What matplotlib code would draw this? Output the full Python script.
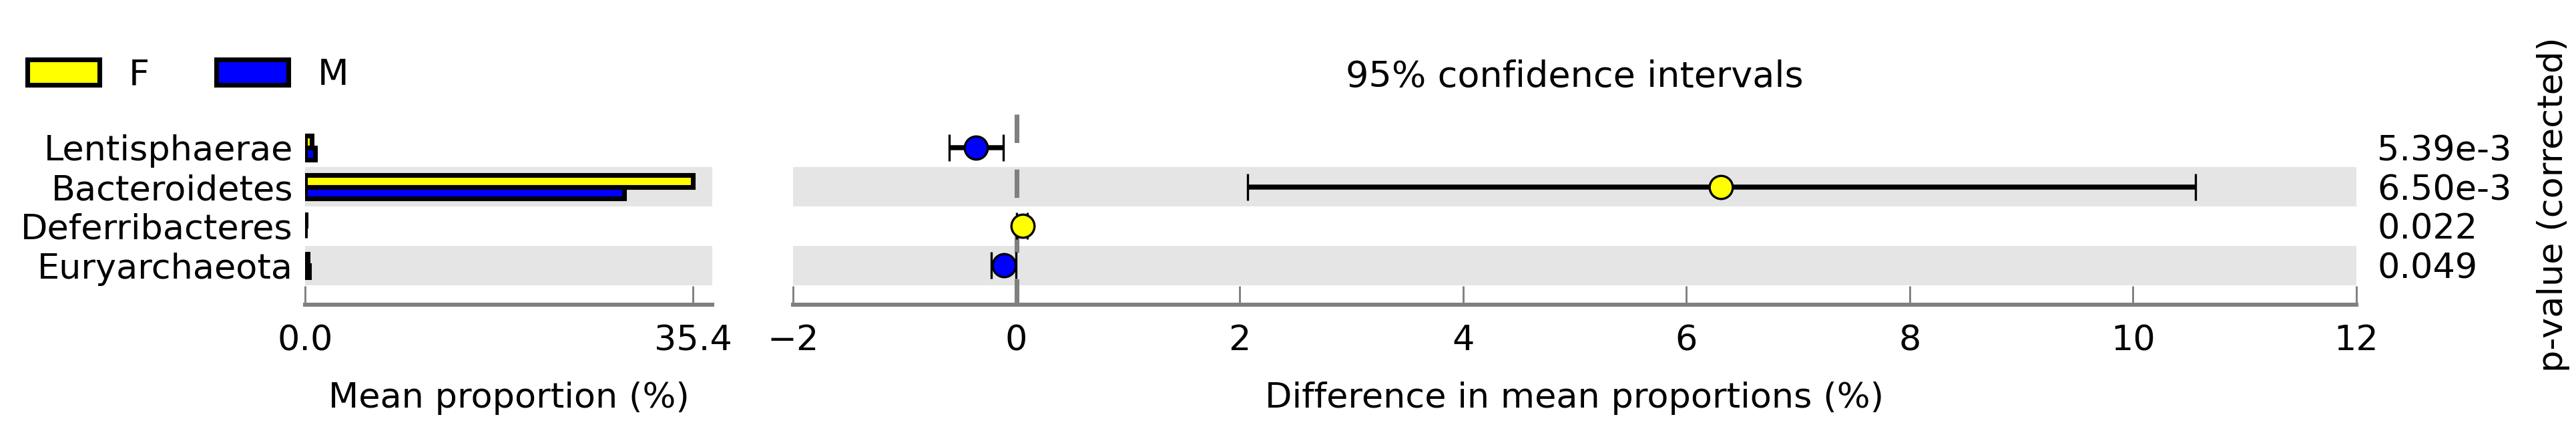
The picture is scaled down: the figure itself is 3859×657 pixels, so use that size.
import matplotlib
matplotlib.use("Agg")
import matplotlib.pyplot as plt
from matplotlib.patches import Patch

# Features, bottom row first
features = ["Euryarchaeota", "Deferribacteres", "Bacteroidetes", "Lentisphaerae"]
mean_f = [0.24, 0.09, 35.4, 0.58]
mean_m = [0.37, 0.03, 29.1, 0.94]
diff = [-0.11, 0.054, 6.31, -0.363]
ci_low = [-0.225, 0.002, 2.07, -0.60]
ci_high = [-0.004, 0.098, 10.56, -0.118]
pvalues = ["0.049", "0.022", "6.50e-3", "5.39e-3"]
groups = ["F", "M"]
group_colors = ["#ffff00", "#0000ff"]
diff_ticks = [-2, 0, 2, 4, 6, 8, 10, 12]

FONT = 12.6
FONT_BIG = 13
EDGE_LW = 1.7
GREY = "#808080"
BAND = "#e5e5e5"

W, H, DPI = 3859, 657, 300
fig = plt.figure(figsize=(W / DPI, H / DPI), dpi=DPI)
plt.rcParams["font.family"] = "DejaVu Sans"

rows = list(range(len(features)))
ylim = (-1.0, 3.85)
bottom = 1 - 456 / H
height = 285 / H

ax_bar = fig.add_axes([457 / W, bottom, 610 / W, height])
ax_ci = fig.add_axes([1188 / W, bottom, 2342 / W, height])


def style_axis(ax):
    for side in ["top", "right", "left"]:
        ax.spines[side].set_visible(False)
    ax.spines["bottom"].set_color(GREY)
    ax.spines["bottom"].set_linewidth(1.45)
    ax.tick_params(axis="x", direction="in", length=6.7, width=0.7, color=GREY,
                   labelsize=FONT, pad=7)
    ax.tick_params(axis="y", length=0)
    ax.set_ylim(*ylim)
    ax.set_facecolor("none")


# --- mean proportion bars ---
xmax = max(max(mean_f), max(mean_m)) * 1.05
for r in rows:
    if r % 2 == 0:
        ax_bar.barh(r, xmax, height=1.0, left=0, color=BAND, lw=0, zorder=0)
ax_bar.barh([r + 0.15 for r in rows], mean_f, height=0.3, color=group_colors[0],
            edgecolor="k", linewidth=EDGE_LW, zorder=2)
ax_bar.barh([r - 0.15 for r in rows], mean_m, height=0.3, color=group_colors[1],
            edgecolor="k", linewidth=EDGE_LW, zorder=2)
ax_bar.set_xlim(0, xmax)
ax_bar.set_xticks([0, max(mean_f + mean_m)])
ax_bar.set_xticklabels(["%.1f" % 0, "%.1f" % max(mean_f + mean_m)])
ax_bar.set_yticks(rows)
ax_bar.set_yticklabels(features, fontsize=FONT)
style_axis(ax_bar)
ax_bar.tick_params(axis="y", pad=4.3)
ax_bar.set_xlabel("Mean proportion (%)", fontsize=FONT, labelpad=8.6)

# --- confidence intervals ---
for r in rows:
    if r % 2 == 0:
        ax_ci.barh(r, diff_ticks[-1] - diff_ticks[0], height=1.0, left=diff_ticks[0],
                   color=BAND, lw=0, zorder=0)
ax_ci.plot([0, 0], [ylim[1], ylim[0]], color=GREY, lw=1.7,
           linestyle=(0, (6, 5.6)), zorder=1)
for r in rows:
    c = group_colors[0] if diff[r] > 0 else group_colors[1]
    ax_ci.errorbar(diff[r], r, xerr=[[diff[r] - ci_low[r]], [ci_high[r] - diff[r]]],
                   fmt="o", color=c, mec="k", mew=0.8, ms=8.3, ecolor="k",
                   elinewidth=1.8, capsize=4.9, capthick=1.0, zorder=3)
ax_ci.set_xlim(diff_ticks[0], diff_ticks[-1])
ax_ci.set_xticks(diff_ticks)
ax_ci.set_yticks([])
style_axis(ax_ci)
ax_ci.set_xlabel("Difference in mean proportions (%)", fontsize=FONT, labelpad=8.6)
ax_ci.set_title("95% confidence intervals", fontsize=FONT_BIG, pad=9.8)

# p-values on the right
ax_p = ax_ci.twinx()
ax_p.set_ylim(*ylim)
ax_p.set_yticks(rows)
ax_p.set_yticklabels(pvalues, fontsize=FONT)
ax_p.tick_params(axis="y", length=0, pad=7.5)
for s in ax_p.spines.values():
    s.set_visible(False)

fig.text(3825 / W, 1 - 306 / H, "p-value (corrected)", rotation=90,
         ha="center", va="center", fontsize=FONT)

# legend
handles = [Patch(facecolor=group_colors[i], edgecolor="k", linewidth=EDGE_LW)
           for i in range(len(groups))]
fig.legend(handles, groups, loc="center left", bbox_to_anchor=(40.5 / W, 1 - 112 / H),
           ncol=2, frameon=False, fontsize=FONT_BIG, handlelength=2.01,
           handleheight=0.72, handletextpad=0.8, columnspacing=1.84,
           borderpad=0, borderaxespad=0)

fig.savefig("out.png", dpi=DPI)
